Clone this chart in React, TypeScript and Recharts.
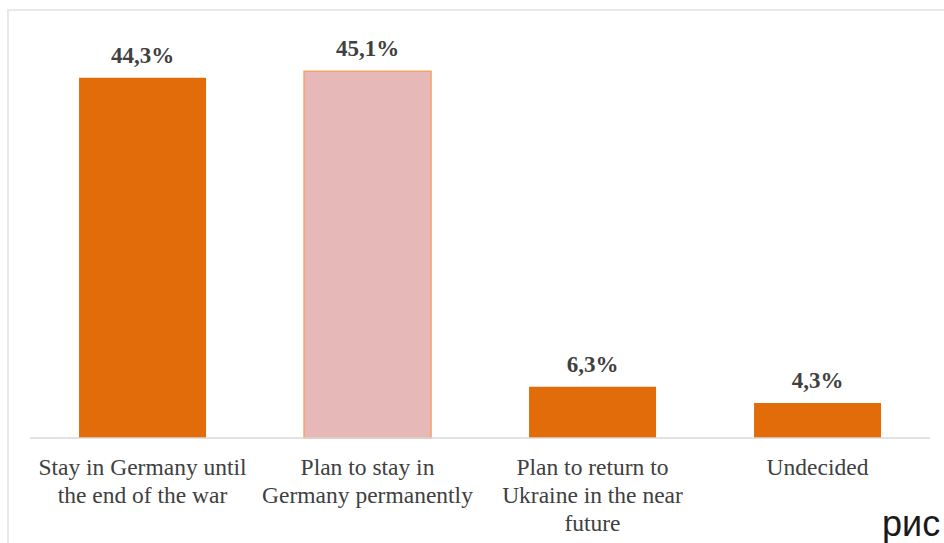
import React from "react";
import { BarChart, Bar, XAxis, YAxis, Cell, LabelList } from "recharts";

// Survey answers: plans of respondents regarding their stay in Germany
const categories = [
  "Stay in Germany until\nthe end of the war",
  "Plan to stay in\nGermany permanently",
  "Plan to return to\nUkraine in the near\nfuture",
  "Undecided",
];
const shares = [44.3, 45.1, 6.3, 4.3];
const valueLabels = ["44,3%", "45,1%", "6,3%", "4,3%"];

const data = categories.map((name, i) => ({
  name,
  value: shares[i],
  label: valueLabels[i],
}));

const ORANGE = "#e36c0a";
const PINK = "#e6b8b7";
const PINK_EDGE = "#f4a36a";
const TEXT = "#404040";
const SERIF = "Liberation Serif, Times New Roman, serif";

const CategoryTick = (props: any) => {
  const { x, y, payload } = props;
  const lines = String(payload.value).split("\n");
  return (
    <g>
      {lines.map((line: string, i: number) => (
        <text
          key={i}
          x={x}
          y={y + 29 + i * 28}
          textAnchor="middle"
          fill={TEXT}
          style={{ fontFamily: SERIF, fontSize: "23.5px" }}
        >
          {line}
        </text>
      ))}
    </g>
  );
};

const ValueLabel = (props: any) => {
  const { x, y, width, index } = props;
  return (
    <text
      x={x + width / 2}
      y={y - 15}
      textAnchor="middle"
      fill={TEXT}
      style={{ fontFamily: SERIF, fontSize: "23px", fontWeight: "bold" }}
    >
      {valueLabels[index]}
    </text>
  );
};

export default function App() {
  return (
    <div
      style={{
        position: "absolute",
        left: 0,
        top: 0,
        width: 944,
        height: 543,
        overflow: "hidden",
        background: "#ffffff",
      }}
    >
      <div
        style={{
          position: "absolute",
          left: 7,
          top: 9,
          width: 980,
          height: 620,
          border: "2px solid #e8e8e8",
          boxSizing: "border-box",
        }}
      />
      <div style={{ position: "absolute", left: 0, top: 0 }}>
        <BarChart
          width={944}
          height={543}
          data={data}
          margin={{ top: 31.5, right: 14, left: 30, bottom: 45 }}
          barCategoryGap="21.8%"
        >
          <XAxis
            dataKey="name"
            height={60}
            axisLine={{ stroke: "#d9d9d9", strokeWidth: 1.5 }}
            tickLine={false}
            tick={<CategoryTick />}
            interval={0}
          />
          <YAxis hide domain={[0, 50]} />
          <Bar dataKey="value" isAnimationActive={false}>
            {data.map((d, i) => (
              <Cell
                key={i}
                fill={i === 1 ? PINK : ORANGE}
                stroke={i === 1 ? PINK_EDGE : ORANGE}
                strokeWidth={i === 1 ? 1.5 : 0}
              />
            ))}
            <LabelList dataKey="label" content={<ValueLabel />} />
          </Bar>
        </BarChart>
      </div>
      <svg
        width={944}
        height={543}
        style={{ position: "absolute", left: 0, top: 0, pointerEvents: "none" }}
      >
        <text
          x={882}
          y={536}
          fill="#1a1a1a"
          style={{ fontFamily: "Liberation Sans, Arial, sans-serif", fontSize: "36px" }}
        >
          рис
        </text>
      </svg>
    </div>
  );
}
